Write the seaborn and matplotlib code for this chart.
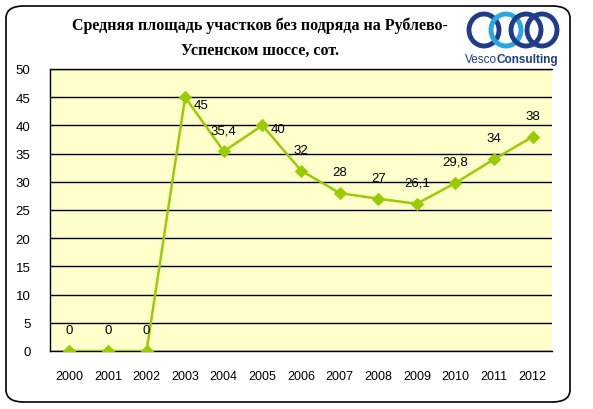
import matplotlib
matplotlib.use("Agg")
import matplotlib.pyplot as plt
import seaborn as sns
import pandas as pd
import numpy as np
from matplotlib.patches import FancyBboxPatch, Ellipse

years = ["2000", "2001", "2002", "2003", "2004", "2005", "2006",
         "2007", "2008", "2009", "2010", "2011", "2012"]
values = [0, 0, 0, 45, 35.4, 40, 32, 28, 27, 26.1, 29.8, 34, 38]
labels = ["0", "0", "0", "45", "35,4", "40", "32", "28", "27", "26,1", "29,8", "34", "38"]

title = "Средняя площадь участков без подряда на Рублево-\nУспенском шоссе, сот."

sns.set_theme(style="white")
plt.rcParams["font.family"] = ["Liberation Sans", "DejaVu Sans"]
plt.rcParams["text.color"] = "black"
plt.rcParams["xtick.color"] = "black"
plt.rcParams["ytick.color"] = "black"

W, H = 593, 410
fig = plt.figure(figsize=(W / 100, H / 100), dpi=100)
fig.patch.set_facecolor("white")

# rounded frame
frame = FancyBboxPatch((6 / W, 7 / H), 564 / W, 396 / H,
                       boxstyle="round,pad=0,rounding_size=0.03",
                       transform=fig.transFigure, facecolor="none", edgecolor="black",
                       linewidth=1.2, zorder=0)
fig.patches.append(frame)

ax = fig.add_axes([50 / W, 1 - 352 / H, (552 - 50) / W, (352 - 70) / H])
ax.set_facecolor("#FFFFCC")

df = pd.DataFrame({"idx": np.arange(len(years)), "val": values})
sns.lineplot(data=df, x="idx", y="val", ax=ax, color="#99CC00", linewidth=1.8,
             marker="D", markersize=6, markeredgecolor="#99CC00", zorder=3)

ax.set_xlim(-0.5, len(years) - 0.5)
ax.set_ylim(0, 50)
ax.set_yticks(np.arange(0, 51, 5))
ax.set_yticklabels([str(v) for v in range(0, 51, 5)], fontsize=9.5)
ax.set_xticks(np.arange(len(years)))
ax.set_xticklabels(years, fontsize=9)
ax.set_xticks(np.arange(-0.5, len(years), 1), minor=True)
ax.tick_params(axis="x", which="major", length=0, pad=14)
ax.tick_params(axis="x", which="minor", length=7, direction="inout", width=1, color="black")
ax.tick_params(axis="y", length=0, pad=14)
ax.grid(axis="y", color="black", linewidth=1)
ax.set_xlabel("")
ax.set_ylabel("")
for s in ["left", "bottom", "top"]:
    ax.spines[s].set_visible(True)
    ax.spines[s].set_color("black")
    ax.spines[s].set_linewidth(1)
ax.spines["right"].set_visible(False)

offsets = {3: (16, -8), 5: (16, -4)}
for i, (v, lab) in enumerate(zip(values, labels)):
    dx, dy = offsets.get(i, (0, 21))
    ax.annotate(lab, (i, v), xytext=(dx, dy), textcoords="offset pixels",
                ha="center", va="center", fontsize=9.5, color="black")

fig.text(260 / W, 1 - 38 / H, title, ha="center", va="center", fontsize=11.5,
         fontweight="bold", family="Liberation Serif", linespacing=1.75, color="black")

# logo approximation
for cx, col in [(484, "#1F3C8C"), (506, "#2AA7DF"), (526, "#1F3C8C"), (542, "#1F3C8C")]:
    fig.patches.append(Ellipse((cx / W, 1 - 31 / H), 30 / W, 32 / H, transform=fig.transFigure,
                               facecolor="none", edgecolor=col, linewidth=3.5))
fig.text(465 / W, 1 - 60 / H, "Vesco", color="#1F3C8C", fontsize=8.5, ha="left", va="center",
         family="Liberation Sans")
fig.text(558 / W, 1 - 60 / H, "Consulting", color="#1F3C8C", fontsize=8.5, ha="right", va="center",
         family="Liberation Sans", fontweight="bold")

fig.savefig("out.png", dpi=100)
